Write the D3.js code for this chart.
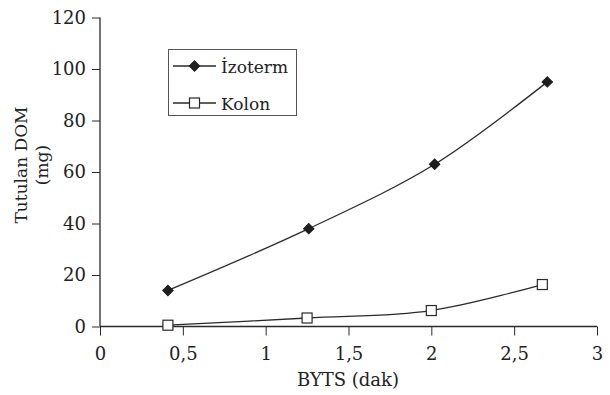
<!DOCTYPE html>
<html>
<head>
<meta charset="utf-8">
<script src="https://cdn.jsdelivr.net/npm/d3@7/dist/d3.min.js"></script>
<style>
  html, body { margin: 0; padding: 0; background: #fff; }
  svg { display: block; }
  svg text { fill: #222; }
</style>
</head>
<body>
<svg id="chart" width="610" height="395"></svg>
<script>
// BYTS (dak) values for each series
const izotermX = [0.41, 1.26, 2.02, 2.70];
const izotermY = [14, 38, 63, 95];
const kolonX = [0.41, 1.25, 2.00, 2.67];
const kolonY = [0.5, 3.3, 6.2, 16.3];

const xTicks = [0, 0.5, 1, 1.5, 2, 2.5, 3];
const xTickLabels = ["0", "0,5", "1", "1,5", "2", "2,5", "3"];
const yTicks = [0, 20, 40, 60, 80, 100, 120];

const seriesNames = ["İzoterm", "Kolon"];

const serif = "'DejaVu Serif', 'Liberation Serif', serif";
const svg = d3.select("#chart");
const ink = "#2a2a2a";

const x = d3.scaleLinear().domain([0, 3]).range([100, 597]);
const y = d3.scaleLinear().domain([0, 120]).range([326.5, 17.5]);

function label(sel, size) {
  return sel.style("font-family", serif).style("font-size", size + "px");
}

// Axes
const yAxis = d3.axisLeft(y).tickValues(yTicks).tickSize(8).tickPadding(6).tickFormat(d3.format("d"));
const xAxis = d3.axisBottom(x).tickValues(xTicks).tickSize(9).tickPadding(12)
  .tickFormat((d, i) => xTickLabels[i]);

const gy = svg.append("g").attr("transform", `translate(${x(0)},0)`).call(yAxis);
const gx = svg.append("g").attr("transform", `translate(0,${y(0)})`).call(xAxis);

[gx, gy].forEach(g => {
  g.attr("font-family", null).attr("font-size", null);
  g.select(".domain").attr("stroke", ink).attr("stroke-width", 1.3);
  g.selectAll(".tick line").attr("stroke", ink).attr("stroke-width", 1);
  label(g.selectAll(".tick text").attr("fill", "#222"), 18);
});
// plain axis lines without end caps
gy.select(".domain").attr("d", `M0,${y(120)}V${y(0)}`);
gx.select(".domain").attr("d", `M${x(0)},0H${x(3)}`);

// Axis titles
label(svg.append("text")
  .attr("x", 348).attr("y", 386)
  .attr("text-anchor", "middle"), 18)
  .text("BYTS (dak)");

label(svg.append("text")
  .attr("transform", "translate(27,165) rotate(-90)")
  .attr("text-anchor", "middle"), 17)
  .text("Tutulan DOM");
label(svg.append("text")
  .attr("transform", "translate(48,165) rotate(-90)")
  .attr("text-anchor", "middle"), 17)
  .text("(mg)");

// Smoothed series lines
const line = d3.line().x(d => x(d[0])).y(d => y(d[1])).curve(d3.curveCatmullRom.alpha(0.5));

const izoPts = izotermX.map((v, i) => [v, izotermY[i]]);
const kolPts = kolonX.map((v, i) => [v, kolonY[i]]);

svg.append("path").datum(izoPts).attr("d", line)
  .attr("fill", "none").attr("stroke", ink).attr("stroke-width", 1.3);
svg.append("path").datum(kolPts).attr("d", line)
  .attr("fill", "none").attr("stroke", ink).attr("stroke-width", 1.3);

// Markers
const diamondShape = d3.symbol().type(d3.symbolSquare).size(55);
svg.append("g").selectAll("path").data(izoPts).join("path")
  .attr("d", diamondShape)
  .attr("transform", d => `translate(${x(d[0])},${y(d[1])}) rotate(45)`)
  .attr("fill", "#1e1e1e").attr("stroke", "#1e1e1e").attr("stroke-width", 1);

svg.append("g").selectAll("rect").data(kolPts).join("rect")
  .attr("x", d => x(d[0]) - 5).attr("y", d => y(d[1]) - 5)
  .attr("width", 10).attr("height", 10)
  .attr("fill", "#fff").attr("stroke", ink).attr("stroke-width", 1.2);

// Legend
const legend = svg.append("g");
legend.append("rect")
  .attr("x", 168.5).attr("y", 49.5).attr("width", 128).attr("height", 66)
  .attr("fill", "#fff").attr("stroke", "#555").attr("stroke-width", 1);

const rows = [66, 103];
seriesNames.forEach((name, i) => {
  const ry = rows[i];
  legend.append("line").attr("x1", 173).attr("x2", 216).attr("y1", ry).attr("y2", ry)
    .attr("stroke", ink).attr("stroke-width", 1.3);
  if (i === 0) {
    legend.append("path")
      .attr("d", diamondShape)
      .attr("transform", `translate(194.5,${ry}) rotate(45)`)
      .attr("fill", "#1e1e1e").attr("stroke", "#1e1e1e");
  } else {
    legend.append("rect").attr("x", 189.5).attr("y", ry - 5).attr("width", 10).attr("height", 10)
      .attr("fill", "#fff").attr("stroke", ink).attr("stroke-width", 1.2);
  }
  label(legend.append("text").attr("x", 221).attr("y", ry + 7), 17).text(name);
});
</script>
</body>
</html>
